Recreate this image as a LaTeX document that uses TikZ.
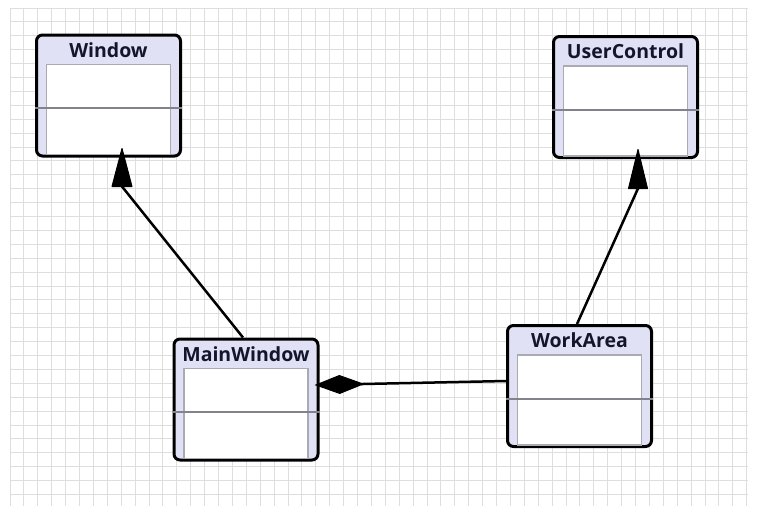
\documentclass[tikz,border=0pt]{standalone}
\usepackage{fontspec}
\setmainfont{Open Sans}
\usetikzlibrary{calc,arrows.meta}

\definecolor{classfill}{RGB}{225,225,245}
\definecolor{gridgray}{RGB}{222,222,222}
\definecolor{compgray}{RGB}{170,170,180}
\definecolor{divgray}{RGB}{130,130,140}
\definecolor{titleink}{RGB}{20,20,45}

\tikzset{
  classbox/.style={draw=black, line width=3pt, rounded corners=6pt, fill=classfill,
    minimum width=144pt, minimum height=121pt, inner sep=0pt},
  classtitle/.style={font=\bfseries\fontsize{19.5}{19.5}\selectfont, text=titleink, inner sep=0pt},
  compartment/.style={draw=compgray, line width=1.5pt, fill=white},
  divider/.style={draw=divgray, line width=2pt},
  conn/.style={draw=black, line width=2.5pt},
  headfill/.style={fill=black, draw=black, line width=1pt, line join=round},
  gridline/.style={draw=gridgray, line width=1pt},
}

% a UML class box: name, centre, label
\newcommand\umlclass[3]{%
  \node[classbox] (#1) at (#2) {};
  \node[classtitle] (#1-title) at ($(#1.north)+(0,16.5)$) {#3};
  \draw[compartment] ($(#1.north west)+(11.5,31)$) rectangle ($(#1.south east)+(-11.5,-3)$);
  \draw[divider] ($(#1.north west)+(0,74.5)$) -- ($(#1.north east)+(0,74.5)$);
}

\begin{document}
\begin{tikzpicture}[x=1pt, y=-1pt]
  \useasboundingbox (0,0) rectangle (759,512);
  \fill[white] (0,0) rectangle (759,512);

  % background grid
  \foreach \k in {0,...,53} {
    \draw[gridline] ({10+13.9*\k},8) -- ({10+13.9*\k},506);
  }
  \foreach \k in {0,...,35} {
    \draw[gridline] (10,{8+13.9*\k}) -- (748,{8+13.9*\k});
  }

  % classes
  \umlclass{win}{108.5,95.5}{Window}
  \umlclass{uc}{625.5,97}{UserControl}
  \umlclass{mw}{246,399.5}{MainWindow}
  \umlclass{wa}{579.5,386}{WorkArea}

  % generalisation MainWindow -> Window
  \coordinate (winbase) at ($(win.south)+(13.5,29)$);
  \draw[conn] ($(mw.north)+(-3,0)$) -- (winbase);
  \filldraw[headfill] ($(winbase)+(0,-38)$) -- ($(winbase)+(-10,0)$) -- ($(winbase)+(10,0)$) -- cycle;

  % generalisation WorkArea -> UserControl
  \coordinate (ucbase) at ($(uc.south)+(12.5,29.5)$);
  \draw[conn] ($(wa.north)+(-2.5,0)$) -- (ucbase);
  \filldraw[headfill] ($(ucbase)+(0,-39)$) -- ($(ucbase)+(-9.5,0)$) -- ($(ucbase)+(9.5,0)$) -- cycle;

  % composition WorkArea <>- MainWindow
  \draw[conn, {Diamond[length=50pt,width=19pt]}-] ($(mw.east)+(-5,-14.5)$) -- ($(wa.west)+(0,-5)$);
\end{tikzpicture}
\end{document}
